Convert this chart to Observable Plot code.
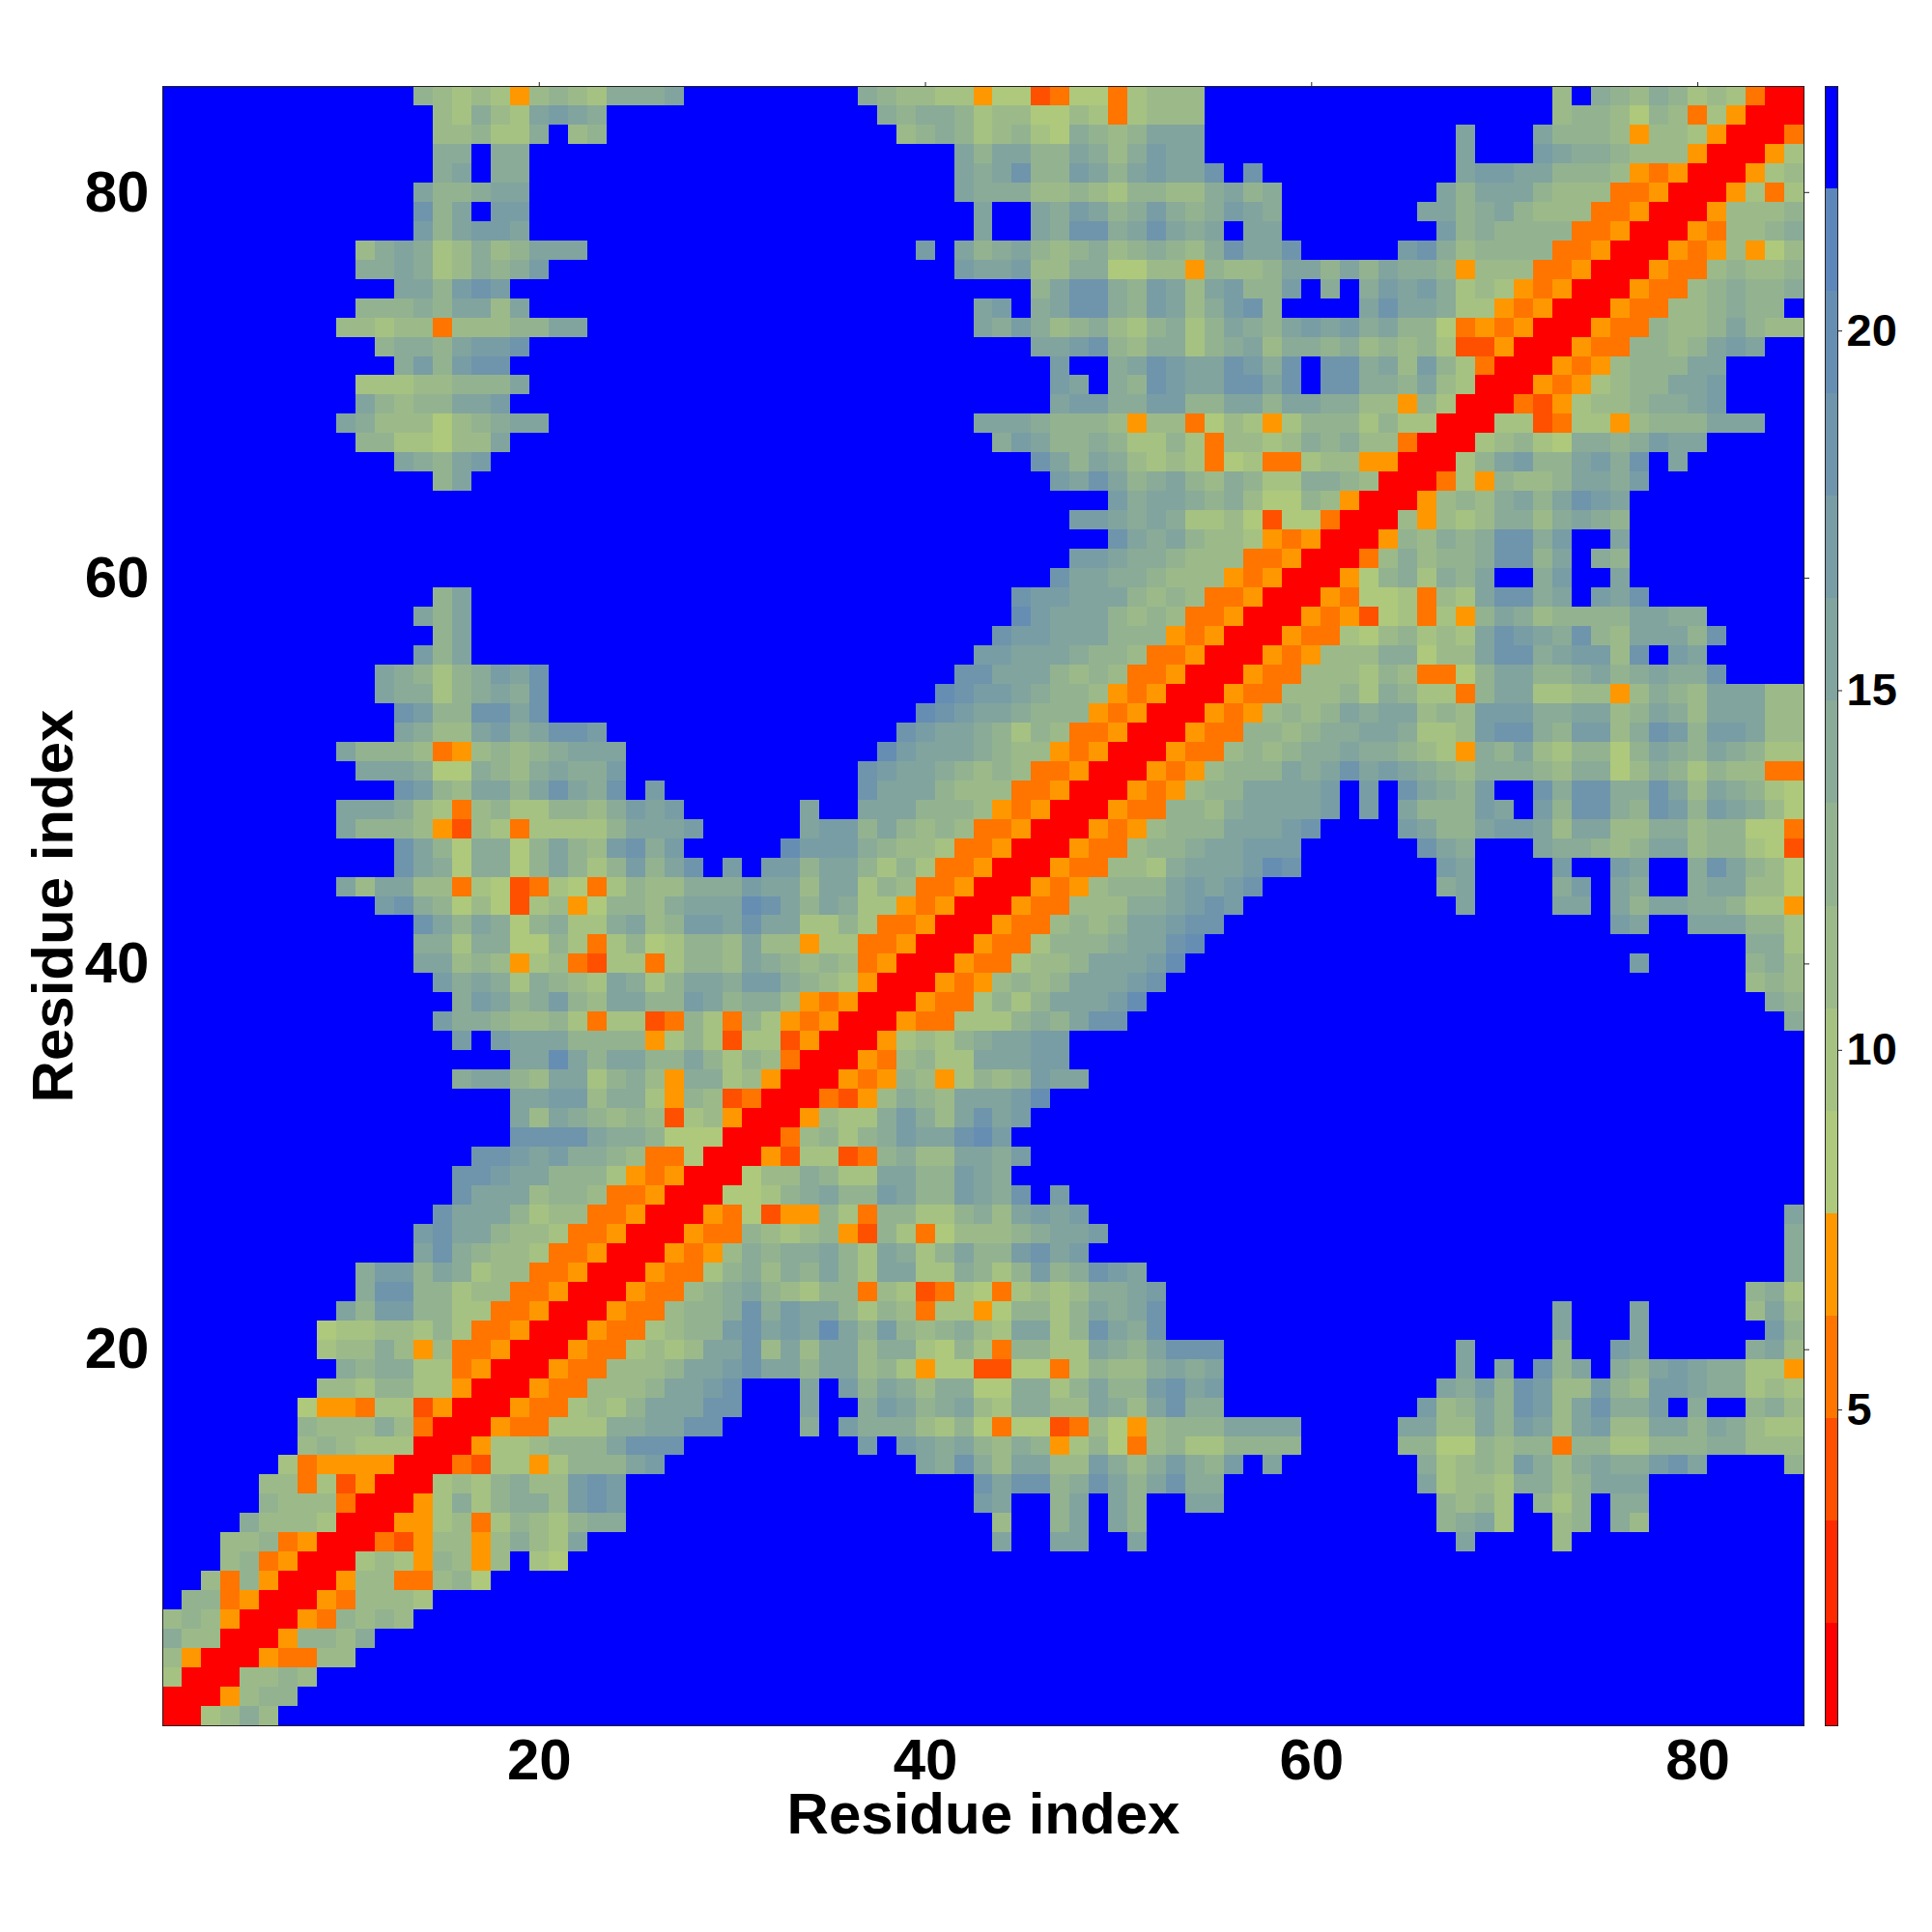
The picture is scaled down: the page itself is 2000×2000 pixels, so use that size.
<!DOCTYPE html>
<html><head><meta charset="utf-8">
<script src="https://cdn.jsdelivr.net/npm/d3@7"></script>
<script src="https://cdn.jsdelivr.net/npm/@observablehq/plot@0.6"></script>
<style>html,body{margin:0;background:#fff}#c{position:relative;width:2000px;height:2000px}#c svg{position:absolute;top:0;background:transparent}</style>
</head><body><div id="c"></div>
<script>
// Upper-left half of the symmetric map, row 85 first. Letters a..o = colour band 1..15; a number = that many cells of band 16 (blue).
const rowsTopDown = [
"13ihghgehihgjjjk9jihhggeffcdffdghhh18h1jihjighgdaa",
"14hgjhgklkj14jijjighhffhgdghhh18hiihfihdgeaa",
"14hhiggj1hi15hijighigfjihikkk13k3kiiihehhgeaa",
"14jj1jj22kikkiikjhjlkk13k3lkjjihhheaa",
"14jk1jj22kjkmiilkiklkkm1m10kllkkiiihedeaa",
"13kiijkk22kjjjhhihgiihhjkij8kikkkihhhddeaa",
"13mik1ll23k2kjlkijljijlkj7kkijkihhhddeaa",
"13likllk23k2kjmmjkmkjk1kk8lijiiiiddeaa",
"10hjkjghjhikkk17l1kijkihijhijihjmkkm5lmjhiiiiddeaa",
"10jjkjghjijl21lkklhhjjffhheihhikkikikjjiehhhddeaa",
"12kkilml27ikmmjilkhkliil1j1jlkljghgedeaa",
"10iiijikkhk23kl1jkmmjilkhjlmi4kmkkjggedeaa",
"9hhghhdhhhiikk20kjljhijhgijgikjiklkljkiifdedeaa",
"11ijjikllm26kklmihjjgijkhjjijhihigcceaa",
"12jlilmm28l2jkmlkkmljm1mmjkhligdaa",
"10ggghhiiik27lk1jimlkkmmkm1mmjjikhgaa",
"10kihiikkl28klljjlliikkikkjjhheigaa",
"9kjhhhfhijkk22kkkjiiihehhdfhgegiiigiggaa",
"10iiggfhhk25jlkiijiggigdhhghjijhhdaa",
"12kjikl28mkikjhghgdfgddghheeaa",
"14ik30lkmkijkihjiggjjihaa",
"49ljkkjijhffiheaa",
"47llkjkjgghfcffdaa",
"49mkjkihhgedeaa",
"47llkjjihhhddeaa",
"46mkkjjihhhedeaa",
"14ik28mllkkkihihddeaa",
"13kik28nlkkkihihddeaa",
"14ik27mllkkkiiiedeaa",
"13lik26llkkkjiihddeaa",
"11kjigijlkm21mmkkkihihddeaa",
"11kjjgijkjm20nmllkjiihedeaa",
"12mliimmkm19nmlkkjiiiedeaa",
"12kjhhkljkmml15mlkkjigihddeaa",
"9kiiihdehihijkkk13nlkkkjihhedeaa",
"10kkkjffjihjkjjl12mlkkjihihddeaa",
"12mlihkkikmkjm1l10mkkkihhhddeaa",
"9kkkjhgdhiggiihjlkl6k2kkkiiihedeaa",
"9kiiihechgdggggikkkl5kllikihihddeaa",
"12mkifjjfikihlmjl5nllljihhgddeaa",
"12mkjfjjfikigilikm1l1llikkigigddeaa",
"9khkkhhdgfcdgfdgihhjjjlkkhkkgihddeaa",
"11lmjifhfcghefiihjkkknmkikjggedeaa",
"13mkikjfijggjkhillkmkkggigddeaa",
"13jjgjjffigdgifgiihkhheggddeaa",
"13kkhiheghdcggdgiihkjihihdeaa",
"14ljkjgjihgkjgikkjlljihgeaa",
"15jlkijlihkkiilkijjhedeaa",
"14ljjihhigdggcdigdigedeaa",
"15l1lkkkiiiiegigcggceaa",
"18kknkikkiikigihdaa",
"15jkkihkkgijhejjgheaa",
"18kkllhjjgeihcdaa",
"18khkjihihcgheaa",
"18mmmmkjjifffaa",
"16mmlkljjihddfaa",
"15mmlkkiiigedeaa",
"15mkkkhiihddeaa",
"14mkkkighhddeaa",
"13lmkkihhgddeaa",
"13kmjihhgddeaa",
"10jllikjghhddeaa",
"10jmmiighhddeaa",
"9killiiggddeaa",
"8fgghhgigddeaa",
"8ghhjhehddeaa",
"9jijjggdeaa",
"8hhgiiggeaa",
"7feedggceaa",
"7ihhhjhdaa",
"7hihgggaa",
"6gdeeeeaa",
"5hhdgceaa",
"5ihhhdaa",
"4jhhhgaa",
"3hhideaa",
"3hideaa",
"2hdieaa",
"1iideaa",
"hiheaa",
"jhhaa",
"heaa",
"gaa",
"aa",
"a"
];
const bandColors = ["#ff0000","#ff2a00","#ff5000","#ff7500","#ff9800","#aec97b","#a5c282","#9cba89","#93b390","#8aab97","#81a49e","#789da5","#6f95ac","#668eb3","#5d86ba","#0000ff"];
const colorbarRange = [0.61, 23.4];
const axisTicks = [20, 40, 60, 80];
const colorbarTicks = [5, 10, 15, 20];
const axisLabel = "Residue index";
const N = 85;

const bandWidth = (colorbarRange[1] - colorbarRange[0]) / bandColors.length;
const bandEdges = d3.range(bandColors.length + 1).map(i => colorbarRange[0] + i * bandWidth);
const thresholds = bandEdges.slice(1, -1);
const bandValue = i => colorbarRange[0] + (i + 0.5) * bandWidth;

function parseRow(s) {
  const out = [];
  for (const m of s.matchAll(/(\d+)|([a-o])/g)) {
    if (m[1]) for (let k = 0; k < +m[1]; k++) out.push(15);
    else out.push(m[2].charCodeAt(0) - 97);
  }
  return out;
}
const matrix = new Map();
rowsTopDown.forEach((s, idx) => {
  const r = N - idx;
  parseRow(s).slice(0, r).forEach((lv, j) => { matrix.set((j + 1) + "," + r, lv); matrix.set(r + "," + (j + 1), lv); });
});
const cells = [];
for (let y = 1; y <= N; y++) for (let x = 1; x <= N; x++) {
  cells.push({x, y, v: bandValue(matrix.has(x + "," + y) ? matrix.get(x + "," + y) : 15)});
}
const colorOpt = {type: "threshold", domain: thresholds, range: bandColors};
const font = "'Liberation Sans', Arial, sans-serif";
const ink = "#222";

const main = Plot.plot({
  width: 2000, height: 1960,
  marginLeft: 168, marginRight: 133, marginTop: 89, marginBottom: 174,
  style: {fontFamily: font, background: "transparent", overflow: "visible"},
  x: {domain: [0.5, 85.5], label: null},
  y: {domain: [0.5, 85.5], label: null},
  color: colorOpt,
  marks: [
    Plot.rect(cells, {x1: d => d.x - 0.5, x2: d => d.x + 0.5, y1: d => d.y - 0.5, y2: d => d.y + 0.5, fill: "v", shapeRendering: "crispEdges"}),
    Plot.frame({stroke: ink, strokeWidth: 1}),
    Plot.axisX({anchor: "top", ticks: axisTicks, tickSize: 5, tickFormat: () => "", label: null, stroke: ink}),
    Plot.axisY({anchor: "right", ticks: axisTicks, tickSize: 5, tickFormat: () => "", label: null, stroke: ink}),
    Plot.axisX({anchor: "bottom", ticks: axisTicks, tickSize: 0, tickPadding: 13, fontSize: 60, fontWeight: "bold", fill: "#000", label: axisLabel, labelAnchor: "center", labelArrow: "none", labelOffset: 111}),
    Plot.axisY({anchor: "left", ticks: axisTicks, tickSize: 0, tickPadding: 14, fontSize: 60, fontWeight: "bold", fill: "#000", label: axisLabel, labelAnchor: "center", labelArrow: "none", labelOffset: 136})
  ]
});
const bar = Plot.plot({
  width: 120, height: 1960,
  marginLeft: 9, marginRight: 98, marginTop: 89, marginBottom: 174,
  style: {fontFamily: font, background: "transparent", overflow: "visible"},
  x: {domain: [0, 1], axis: null},
  y: {domain: colorbarRange, label: null},
  color: colorOpt,
  marks: [
    Plot.rect(d3.range(bandColors.length), {x1: 0, x2: 1, y1: i => bandEdges[i], y2: i => bandEdges[i + 1], fill: i => bandValue(i), shapeRendering: "crispEdges"}),
    Plot.frame({stroke: ink, strokeWidth: 1}),
    Plot.axisY({anchor: "right", ticks: colorbarTicks, tickSize: 4, tickPadding: 5, fontSize: 47, fontWeight: "bold", fill: "#000", label: null, stroke: ink})
  ]
});
bar.style.left = "1880px";
main.style.left = "0px";
const c = document.getElementById("c");
c.appendChild(main); c.appendChild(bar);
</script></body></html>
